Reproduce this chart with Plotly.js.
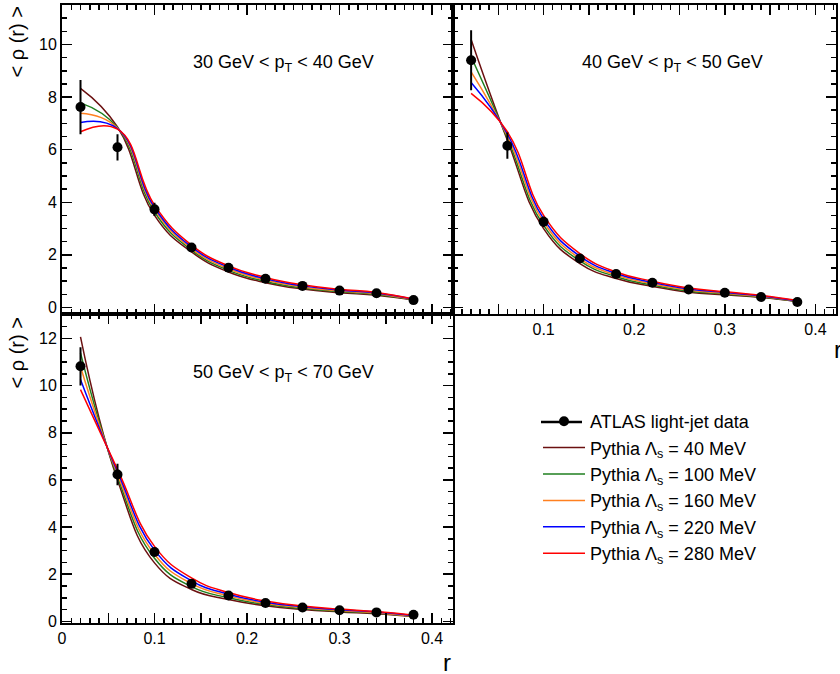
<!DOCTYPE html>
<html><head><meta charset="utf-8">
<script src="https://cdn.plot.ly/plotly-3.0.1.min.js"></script>
<style>html,body{margin:0;padding:0;overflow:hidden;background:#fff}</style>
</head><body><div id="chart" style="width:840px;height:674px"></div>
<script>
// ---- data ----
const rBins = [0.02,0.06,0.10,0.14,0.18,0.22,0.26,0.30,0.34,0.38];
const panelLabels = ['30 GeV &lt; p<sub>T</sub> &lt; 40 GeV','40 GeV &lt; p<sub>T</sub> &lt; 50 GeV','50 GeV &lt; p<sub>T</sub> &lt; 70 GeV'];
const dataName = 'ATLAS light-jet data';
const lambdaValues = ['40','100','160','220','280'];

// 30-40 GeV
const data30 = [7.62,6.09,3.73,2.28,1.51,1.09,0.82,0.64,0.54,0.28];
const err30  = [1.03,0.50,0.25,0.12,0.08,0.06,0.05,0.04,0.04,0.03];
const py30_l40  = [8.33,6.86,3.50,2.11,1.35,0.94,0.70,0.56,0.46,0.28];
const py30_l100 = [7.78,6.84,3.63,2.18,1.41,0.99,0.74,0.60,0.49,0.29];
const py30_l160 = [7.38,6.82,3.73,2.24,1.47,1.04,0.78,0.63,0.52,0.30];
const py30_l220 = [7.03,6.80,3.80,2.30,1.53,1.09,0.82,0.66,0.55,0.31];
const py30_l280 = [6.68,6.78,3.89,2.37,1.58,1.14,0.86,0.69,0.57,0.32];

// 40-50 GeV
const data40 = [9.40,6.15,3.26,1.86,1.27,0.94,0.68,0.56,0.40,0.21];
const err40  = [1.14,0.50,0.20,0.10,0.07,0.05,0.04,0.03,0.03,0.02];
const py40_l40  = [10.19,6.36,3.00,1.67,1.10,0.80,0.58,0.48,0.38,0.22];
const py40_l100 = [9.53,6.44,3.12,1.77,1.17,0.85,0.62,0.51,0.40,0.23];
const py40_l160 = [8.96,6.52,3.25,1.86,1.23,0.90,0.66,0.54,0.42,0.24];
const py40_l220 = [8.55,6.60,3.37,1.95,1.29,0.95,0.70,0.57,0.44,0.25];
const py40_l280 = [8.14,6.68,3.50,2.05,1.35,1.00,0.74,0.60,0.46,0.26];

// 50-70 GeV
const data50 = [10.82,6.23,2.94,1.59,1.10,0.78,0.59,0.47,0.38,0.28];
const err50  = [0.81,0.46,0.18,0.10,0.07,0.05,0.04,0.03,0.03,0.02];
const py50_l40  = [12.07,6.00,2.48,1.35,0.93,0.66,0.50,0.40,0.32,0.20];
const py50_l100 = [11.39,6.12,2.68,1.47,1.00,0.71,0.54,0.43,0.35,0.21];
const py50_l160 = [10.80,6.24,2.85,1.60,1.08,0.76,0.58,0.46,0.37,0.22];
const py50_l220 = [10.26,6.35,3.02,1.72,1.15,0.81,0.62,0.49,0.40,0.24];
const py50_l280 = [9.83,6.45,3.18,1.84,1.22,0.86,0.65,0.52,0.42,0.26];

const xTickVals = [0,0.05,0.1,0.15,0.2,0.25,0.3,0.35,0.4];
const xTickTextBottom = ['0','','0.1','','0.2','','0.3','','0.4'];
const xTickTextTopRight = ['','','0.1','','0.2','','0.3','','0.4'];

// ---- styles ----
const curveColors = ['#6b1010','#1f7f1f','#ff8020','#0000ff','#ff0000'];
const FONT = 'Liberation Sans, Arial, Helvetica, sans-serif';
const panels = [
  {data:data30, err:err30, curves:[py30_l40,py30_l100,py30_l160,py30_l220,py30_l280], xa:'x', ya:'y'},
  {data:data40, err:err40, curves:[py40_l40,py40_l100,py40_l160,py40_l220,py40_l280], xa:'x2', ya:'y2'},
  {data:data50, err:err50, curves:[py50_l40,py50_l100,py50_l160,py50_l220,py50_l280], xa:'x3', ya:'y3'}
];

const traces = [];
panels.forEach((p, pi) => {
  p.curves.forEach((c, ci) => {
    traces.push({
      type:'scatter', mode:'lines', x:rBins, y:c, xaxis:p.xa, yaxis:p.ya,
      line:{color:curveColors[ci], width:1.5, shape:'spline', smoothing:1.3},
      name:'Pythia Λ<sub>s</sub> = ' + lambdaValues[ci] + ' MeV',
      showlegend: pi === 0, legendrank: 2 + ci, legendgroup:'g'+ci, hoverinfo:'skip'
    });
  });
  traces.push({
    type:'scatter', mode:'markers', x:rBins, y:p.data, xaxis:p.xa, yaxis:p.ya,
    marker:{color:'black', size:10, symbol:'circle'},
    error_y:{type:'data', array:p.err, visible:true, color:'black', thickness:2, width:0},
    name:dataName, showlegend: pi === 0, legendrank:1, legendgroup:'gd', hoverinfo:'skip'
  });
});

const W = 840, H = 674, ML = 62, MR = 4, MT = 5, MB = 51;
const pw = W - ML - MR, ph = H - MT - MB;
const dL = 391 / pw;
const yMid = (623 - 313.5) / ph;
const px = v => (v - ML) / pw;
const py = v => (623 - v) / ph;

function xAxis(domain, anchor, labels) {
  return {
    domain:domain, anchor:anchor, range:[0,0.4227], showline:true, linecolor:'black', linewidth:2,
    mirror:'allticks', ticks:'inside', ticklen:10, tickwidth:1.5, tickcolor:'black',
    tickmode:'array', tickvals:xTickVals, ticktext: labels || xTickTextBottom, showticklabels: !!labels,
    tickfont:{family:FONT, size:16, color:'black'}, showgrid:false, zeroline:false,
    minor:{tickmode:'linear', tick0:0, dtick:0.01, ticks:'inside', ticklen:5, tickwidth:1.5, tickcolor:'black'}
  };
}
function yAxis(domain, anchor, range, labels) {
  return {
    domain:domain, anchor:anchor, range:range, showline:true, linecolor:'black', linewidth:2,
    mirror:'allticks', ticks:'inside', ticklen:10, tickwidth:1.5, tickcolor:'black',
    tickmode:'linear', tick0:0, dtick:2, showticklabels:labels,
    tickfont:{family:FONT, size:16, color:'black'}, showgrid:false, zeroline:false,
    minor:{dtick:0.5, ticks:'inside', ticklen:5, tickwidth:1.5, tickcolor:'black'}
  };
}

const annFont = {family:FONT, size:18, color:'black'};
const layout = {
  width:W, height:H, margin:{l:ML, r:MR, t:MT, b:MB},
  paper_bgcolor:'white', plot_bgcolor:'white',
  font:{family:FONT, color:'black'},
  showlegend:true,
  legend:{x:px(538), y:py(403), xanchor:'left', yanchor:'top', bgcolor:'rgba(0,0,0,0)',
          font:{family:FONT, size:18, color:'black'}, itemwidth:42, traceorder:'normal', tracegroupgap:0},
  shapes:[
    // line part of the data legend symbol (ROOT "LP" style)
    {type:'line', xref:'paper', yref:'paper', x0:px(541), x1:px(582), y0:py(422), y1:py(422), line:{color:'black', width:2.5}, layer:'above'}
  ],
  xaxis: xAxis([0,dL], 'y', null),
  yaxis: yAxis([yMid,1], 'x', [-0.23,11.5], true),
  xaxis2: xAxis([dL,1], 'y2', xTickTextTopRight),
  yaxis2: yAxis([yMid,1], 'x2', [-0.23,11.5], false),
  xaxis3: xAxis([0,dL], 'y3', xTickTextBottom),
  yaxis3: yAxis([0,yMid], 'x3', [-0.07,13.06], true),
  annotations:[
    {text:panelLabels[0], xref:'paper', yref:'paper', x:px(191), y:py(50), xanchor:'left', yanchor:'top', showarrow:false, font:annFont},
    {text:panelLabels[1], xref:'paper', yref:'paper', x:px(580), y:py(50), xanchor:'left', yanchor:'top', showarrow:false, font:annFont},
    {text:panelLabels[2], xref:'paper', yref:'paper', x:px(191), y:py(360), xanchor:'left', yanchor:'top', showarrow:false, font:annFont},
    {text:'&lt; ρ (r) &gt;', xref:'paper', yref:'paper', x:px(16), y:1, xanchor:'center', yanchor:'top', textangle:-90, showarrow:false, font:{family:FONT, size:20, color:'black'}},
    {text:'&lt; ρ (r) &gt;', xref:'paper', yref:'paper', x:px(16), y:py(316), xanchor:'center', yanchor:'top', textangle:-90, showarrow:false, font:{family:FONT, size:20, color:'black'}},
    {text:'r', xref:'paper', yref:'paper', x:px(453), y:py(662), xanchor:'right', yanchor:'middle', showarrow:false, font:{family:FONT, size:24, color:'black'}},
    {text:'r', xref:'paper', yref:'paper', x:px(832), y:py(349), xanchor:'left', yanchor:'middle', showarrow:false, font:{family:FONT, size:24, color:'black'}}
  ]
};

Plotly.newPlot('chart', traces, layout, {displayModeBar:false, staticPlot:true});
</script>
</body></html>
